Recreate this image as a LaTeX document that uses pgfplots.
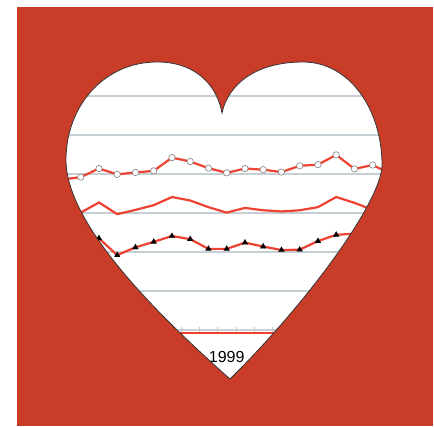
\documentclass[border=0pt]{standalone}
\usepackage{fontspec}
\setmainfont{Liberation Sans}
\usepackage{pgfplots}
\pgfplotsset{compat=1.18}
\definecolor{bgred}{RGB}{200,60,40}
\definecolor{linered}{RGB}{238,66,50}
\definecolor{gridc}{RGB}{198,208,212}
\begin{document}
\begin{tikzpicture}[x=1pt,y=1pt]
\useasboundingbox (0,0) rectangle (434,426);
\fill[white] (0,0) rectangle (434,426);
\fill[bgred] (17,0) rectangle (433,419);
\fill[white] (230,47) .. controls (175,96) and (66,196) .. (66,266)
  .. controls (66,321) and (105,364) .. (157,364)
  .. controls (200,364) and (218,336) .. (222,313)
  .. controls (228,341) and (255,364) .. (303,364)
  .. controls (350,364) and (382,316) .. (382,261)
  .. controls (382,226) and (310,126) .. (230,47) -- cycle;
\begin{scope}
\clip (230,47) .. controls (175,96) and (66,196) .. (66,266)
  .. controls (66,321) and (105,364) .. (157,364)
  .. controls (200,364) and (218,336) .. (222,313)
  .. controls (228,341) and (255,364) .. (303,364)
  .. controls (350,364) and (382,316) .. (382,261)
  .. controls (382,226) and (310,126) .. (230,47) -- cycle;
\begin{axis}[
  at={(62.45pt,96pt)}, anchor=south west,
  scale only axis, width=328.5pt, height=273pt,
  xmin=1990, xmax=2008, ymin=0, ymax=70,
  axis line style={draw=none},
  ytick={0,10,...,70}, yticklabels={}, ytick style={draw=none},
  ymajorgrids, grid style={gridc, line width=1.3pt},
  xtick={1999}, xticklabels={1999},
  major x tick style={draw=none},
  minor xtick={1990.5,1991.5,...,2007.5},
  minor x tick style={gray!45, line width=0.6pt},
  minor tick length=6pt, tick align=center, xtick pos=bottom,
  xticklabel style={anchor=center, yshift=-25pt, font=\fontsize{16}{19}\selectfont, text=black},
  clip=false,
]
\addplot[linered, line width=2.2pt] coordinates {(1990,-0.7) (2008,-0.7)};
\addplot[linered, line width=2.2pt] coordinates {
(1990,29.5) (1991,30.1) (1992,32.7) (1993,29.7) (1994,30.8) (1995,32.0) (1996,34.1) (1997,33.2) (1998,31.5) (1999,30.1) (2000,31.3) (2001,30.7) (2002,30.4) (2003,30.7) (2004,31.5) (2005,34.1) (2006,32.6) (2007,30.8) (2008,29.5)};
\addplot[linered, line width=2.2pt, mark=*, mark size=3.2pt, mark options={fill=white, draw=gray, line width=0.6pt}] coordinates {
(1990,38.6) (1991,39.2) (1992,41.4) (1993,39.9) (1994,40.4) (1995,40.8) (1996,44.2) (1997,43.2) (1998,41.5) (1999,40.3) (2000,41.4) (2001,41.1) (2002,40.5) (2003,42.1) (2004,42.4) (2005,44.9) (2006,41.3) (2007,42.3) (2008,40.0)};
\addplot[linered, line width=2.2pt, mark=triangle*, mark size=3.4pt, mark options={fill=black, draw=black, line width=0.1pt}] coordinates {
(1990,20.0) (1991,24.0) (1992,23.5) (1993,19.2) (1994,21.2) (1995,22.6) (1996,24.1) (1997,23.3) (1998,20.8) (1999,20.8) (2000,22.4) (2001,21.4) (2002,20.5) (2003,20.6) (2004,22.8) (2005,24.4) (2006,24.7) (2007,25.5) (2008,24.0)};
\end{axis}
\end{scope}
\draw[black!80, line width=0.8pt] (230,47) .. controls (175,96) and (66,196) .. (66,266)
  .. controls (66,321) and (105,364) .. (157,364)
  .. controls (200,364) and (218,336) .. (222,313)
  .. controls (228,341) and (255,364) .. (303,364)
  .. controls (350,364) and (382,316) .. (382,261)
  .. controls (382,226) and (310,126) .. (230,47) -- cycle;
\end{tikzpicture}
\end{document}
